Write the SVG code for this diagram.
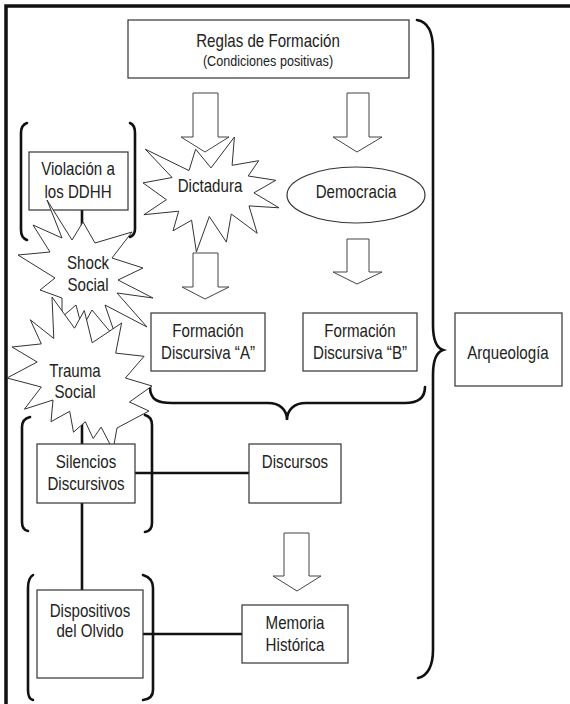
<svg xmlns="http://www.w3.org/2000/svg" width="570" height="704" viewBox="0 0 570 704">
<style>
text { font-family: "Liberation Sans", Arial, sans-serif; font-size: 18px; fill: #222; text-anchor: middle; }
.small { font-size: 15px; }
.box { fill: #fff; stroke: #333; stroke-width: 1.2; }
.burst { fill: #fff; stroke: #333; stroke-width: 1; stroke-linejoin: miter; }
.arrow { fill: #fff; stroke: #444; stroke-width: 1; }
.line { stroke: #111; stroke-width: 2.6; fill: none; }
.brace { stroke: #111; stroke-width: 2.6; fill: none; stroke-linecap: round; }
</style>
<rect width="570" height="704" fill="#fff"/>
<path d="M6,704 V6 H570" stroke="#111" stroke-width="3.5" fill="none"/>

<g id="connectors">
  <path class="line" d="M82,210 V444"/>
  <path class="line" d="M82,503 V590"/>
  <path class="line" d="M135,473 H249"/>
  <path class="line" d="M143,634 H242"/>
  <path class="arrow" d="M193,93 H218 V137 H229 L205,152 L181,137 H193 Z"/>
  <path class="arrow" d="M347,93 H369 V137 H382 L357,152 L333,137 H347 Z"/>
  <path class="arrow" d="M347,239 H369 V272 H382 L357,284 L333,272 H347 Z"/>
  <path class="arrow" d="M193,253 H218 V287 H229 L205,299 L182,287 H193 Z"/>
  <path class="arrow" d="M284,533 H309 V576 H321 L297,591 L273,576 H284 Z"/>
</g>

<g id="brackets">
  <path class="brace" d="M27,123 Q21,125 21,133 V230 Q21,238 27,240"/>
  <path class="brace" d="M130,123 Q135,125 135,133 V229 Q135,235 130,237"/>
  <path class="brace" d="M30,417 Q22,419 22,427 V522 Q22,530 28,531"/>
  <path class="brace" d="M145,415 Q152,417 152,425 V523 Q152,531 145,532"/>
  <path class="brace" d="M33,575 Q28,578 28,588 V690 Q28,699 33,700"/>
  <path class="brace" d="M143,575 Q153,578 153,588 V690 Q153,699 143,700"/>
  <path class="brace" d="M150,387 C150,400 158,403 172,403 H268 C280,403 287,410 287,420 C287,410 294,403 306,403 H405 C418,403 425,398 425,387"/>
  <path class="brace" d="M417,20 C430,22 433,35 433,50 V325 C433,340 437,348 443,350 C437,352 433,360 433,375 V650 C433,665 428,676 418,678"/>
</g>

<g id="reglas">
  <rect class="box" x="128" y="20" width="281" height="58"/>
  <text transform="translate(268,47) scale(0.84,1)">Reglas de Formación</text>
  <text class="small" transform="translate(268,66) scale(0.84,1)">(Condiciones positivas)</text>
</g>

<g id="violacion">
  <rect class="box" x="29" y="152" width="99" height="58"/>
  <text transform="translate(78,175) scale(0.84,1)">Violación a</text>
  <text transform="translate(78,198) scale(0.84,1)">los DDHH</text>
</g>

<g id="dictadura">
  <path class="burst" d="M211,167.9 L234.4,137 L232.1,165.3 L258.7,160.7 L248.2,176 L275.8,180.3 L253.9,192.8 L279,207.8 L249,205.9 L257.2,233.3 L231.3,214 L226.4,242.1 L209.3,216.5 L196.4,252 L191.6,220.2 L173,230.8 L178.7,211.2 L143.9,214.7 L166.4,199.7 L143,182.9 L172.1,177.5 L145.3,149.2 L189,170.6 L195.6,149.2 Z"/>
  <text transform="translate(210,192) scale(0.84,1)">Dictadura</text>
</g>

<g id="democracia">
  <ellipse class="box" cx="356" cy="195" rx="69" ry="28"/>
  <text transform="translate(356,198) scale(0.84,1)">Democracia</text>
</g>

<g id="shock">
  <path class="burst" d="M47,200 L72,240 L83,222 L95,243 L132,232 L112,258 L143,268 L118,280 L153,298 L117,293 L147,327 L105,305 L117,340 L92,310 L82,328 L76,305 L62,317 L62,298 L40,290 L55,278 L18,255 L50,252 L33,225 L62,238 Z"/>
  <text transform="translate(88,269) scale(0.84,1)">Shock</text>
  <text transform="translate(88,291) scale(0.84,1)">Social</text>
</g>

<g id="trauma">
  <path class="burst" d="M74.5,328.2 L52,297 L53.8,338.5 L30.3,319.8 L41.3,343.9 L12,347 L37.2,362 L7,378 L41.3,387 L24.4,409.2 L53,400 L51,421.7 L69.7,411.3 L73.5,432.2 L85.3,421.7 L93.2,438.5 L101.1,427.1 L113,450 L117,428 L149,411 L129.5,402 L152,386 L125.4,378 L144.1,356.3 L115.7,353.1 L121.6,323 L92.2,342.8 L84.3,310.5 Z"/>
  <text transform="translate(75,377) scale(0.84,1)">Trauma</text>
  <text transform="translate(75,398) scale(0.84,1)">Social</text>
</g>

<g id="formacionA">
  <rect class="box" x="151" y="313" width="114" height="58"/>
  <text transform="translate(208,337) scale(0.84,1)">Formación</text>
  <text transform="translate(208,359) scale(0.84,1)">Discursiva “A”</text>
</g>

<g id="formacionB">
  <rect class="box" x="303" y="313" width="114" height="58"/>
  <text transform="translate(360,337) scale(0.84,1)">Formación</text>
  <text transform="translate(360,359) scale(0.84,1)">Discursiva “B”</text>
</g>

<g id="arqueologia">
  <rect class="box" x="455" y="313" width="107" height="73"/>
  <text transform="translate(508,359) scale(0.84,1)">Arqueología</text>
</g>

<g id="silencios">
  <rect class="box" x="37" y="444" width="98" height="59"/>
  <text transform="translate(86,468) scale(0.84,1)">Silencios</text>
  <text transform="translate(86,490) scale(0.84,1)">Discursivos</text>
</g>

<g id="discursos">
  <rect class="box" x="249" y="444" width="92" height="59"/>
  <text transform="translate(295,468) scale(0.84,1)">Discursos</text>
</g>

<g id="dispositivos">
  <rect class="box" x="37" y="590" width="106" height="88"/>
  <text transform="translate(90,617) scale(0.84,1)">Dispositivos</text>
  <text transform="translate(90,637) scale(0.84,1)">del Olvido</text>
</g>

<g id="memoria">
  <rect class="box" x="242" y="605" width="106" height="58"/>
  <text transform="translate(295,629) scale(0.84,1)">Memoria</text>
  <text transform="translate(295,651) scale(0.84,1)">Histórica</text>
</g>
</svg>
